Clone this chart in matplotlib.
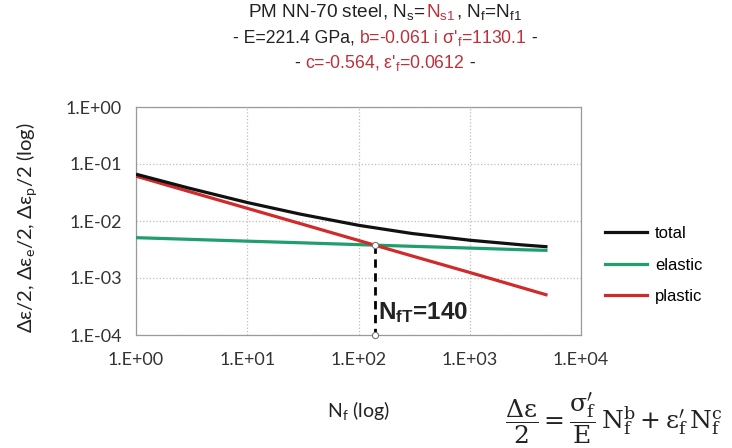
import matplotlib
matplotlib.use("Agg")
import matplotlib.pyplot as plt
from matplotlib.offsetbox import TextArea, HPacker, VPacker, AnnotationBbox
from matplotlib.lines import Line2D

plt.rcParams['mathtext.fontset'] = 'custom'
plt.rcParams['mathtext.rm'] = 'Liberation Sans'
plt.rcParams['mathtext.it'] = 'Liberation Sans:italic'
plt.rcParams['mathtext.bf'] = 'Liberation Sans:bold'

# ---- data ----
cycles = [1, 3, 10, 30, 100, 300, 1000, 3000, 5000]
total = [0.0663, 0.0377, 0.0211, 0.0132, 0.00841, 0.00605, 0.0046, 0.0038, 0.00353]
elastic = [0.0051, 0.00477, 0.00443, 0.00415, 0.00385, 0.0036, 0.00335, 0.00313, 0.00305]
plastic = [0.0612, 0.0329, 0.0167, 0.0090, 0.00456, 0.00245, 0.00125, 0.000669, 0.00050]
series_names = ['total', 'elastic', 'plastic']
transition_N = 140
transition_eps = 0.0038
xtick_vals = [1, 10, 100, 1000, 10000]
xtick_labels = ['1.E+00', '1.E+01', '1.E+02', '1.E+03', '1.E+04']
ytick_vals = [1e-4, 1e-3, 1e-2, 1e-1, 1]
ytick_labels = ['1.E-04', '1.E-03', '1.E-02', '1.E-01', '1.E+00']

C_TOTAL = '#111111'
C_ELASTIC = '#1f9e6e'
C_PLASTIC = '#d12a2a'
RED = '#c0303a'

W, H = 732, 448
fig = plt.figure(figsize=(W / 100, H / 100), dpi=100)
ax = fig.add_axes([136 / W, 1 - 335 / H, (581 - 136) / W, (335 - 107) / H])

ax.plot(cycles, elastic, color=C_ELASTIC, lw=2.3, solid_capstyle='butt', zorder=3)
ax.plot(cycles, plastic, color=C_PLASTIC, lw=2.3, solid_capstyle='butt', zorder=4)
ax.plot(cycles, total, color=C_TOTAL, lw=2.3, solid_capstyle='butt', zorder=5)

ax.plot([transition_N, transition_N], [transition_eps, 1e-4], color='black',
        lw=2.0, ls=(0, (3, 2)), zorder=6)
ax.plot([transition_N, transition_N], [transition_eps, 1e-4], ls='none', marker='o',
        ms=4.5, mfc='white', mec='#777777', mew=0.8, zorder=7, clip_on=False)
ax.text(150, 2.5e-4, r'N$_\mathbf{fT}$=140', fontsize=17.5, fontweight='bold',
        family='Liberation Sans', ha='left', va='center', color='#222222', zorder=8)

ax.set_xscale('log')
ax.set_yscale('log')
ax.set_xlim(1, 10000)
ax.set_ylim(1e-4, 1)
ax.set_xticks(xtick_vals)
ax.set_xticklabels(xtick_labels)
ax.set_yticks(ytick_vals)
ax.set_yticklabels(ytick_labels)
ax.minorticks_off()
ax.tick_params(length=0, labelsize=13, colors='#333333')
ax.tick_params(axis='x', pad=12)
ax.tick_params(axis='y', pad=10)
for lab in ax.get_xticklabels() + ax.get_yticklabels():
    lab.set_family('Lato')
ax.grid(True, color='#bdbdbd', ls=':', lw=0.9)
for s in ax.spines.values():
    s.set_color('#9a9a9a')
    s.set_linewidth(0.9)

# legend
handles = [Line2D([], [], color=c, lw=2.3) for c in (C_TOTAL, C_ELASTIC, C_PLASTIC)]
fig.legend(handles, series_names, loc='upper left', bbox_to_anchor=(590 / W, 1 - 211 / H),
           frameon=False, handlelength=2.5, handletextpad=0.5,
           labelspacing=1.0, prop={'family': 'Liberation Sans', 'size': 12})

# axis labels
fig.text(27 / W, 1 - 228 / H, r'Δε/2, Δε$_\mathregular{e}$/2, Δε$_\mathregular{p}$/2 (log)',
         rotation=90, ha='center', va='center', fontsize=14.5, family='Lato', color='#222222')
fig.text(358 / W, 1 - 410 / H, r'N$_\mathregular{f}$ (log)', ha='center', va='center',
         fontsize=14, family='Lato', color='#222222')

# equation
fig.text(505 / W, 1 - 418 / H,
         r"$\dfrac{\Delta\mathrm{\varepsilon}}{2}=\dfrac{\mathrm{\sigma}_\mathrm{f}^{\prime}}{\mathrm{E}}\,"
         r"\mathrm{N}_\mathrm{f}^\mathrm{b}+\mathrm{\varepsilon}_\mathrm{f}^{\prime}\,\mathrm{N}_\mathrm{f}^\mathrm{c}$",
         ha='left', va='center', fontsize=18, math_fontfamily='dejavuserif', color='#222222')

# title with mixed colours
tp = dict(family='Liberation Sans', fontsize=13.7)
def ta(s, c='#222222', size=None):
    d = dict(tp)
    d['color'] = c
    if size:
        d['fontsize'] = size
    return TextArea(s, textprops=d)

line1 = HPacker(children=[ta('PM NN-70 steel, N$_\\mathregular{s}$='),
                          ta('N$_\\mathregular{s1}$', RED),
                          ta(', N$_\\mathregular{f}$=N$_\\mathregular{f1}$')],
                align='baseline', pad=0, sep=0)
line2 = HPacker(children=[ta('- E=221.4 GPa, ', size=12.7),
                          ta("b=-0.061 i σ'$_\\mathregular{f}$=1130.1", RED, 12.7),
                          ta(' -', size=12.7)],
                align='baseline', pad=0, sep=0)
line3 = HPacker(children=[ta('- ', size=12.7),
                          ta("c=-0.564, ε'$_\\mathregular{f}$=0.0612", RED, 12.7),
                          ta(' -', size=12.7)],
                align='baseline', pad=0, sep=0)
title = VPacker(children=[line1, line2, line3], align='center', pad=0, sep=4)
ab = AnnotationBbox(title, (385 / W, 1 - 2 / H), xycoords='figure fraction',
                    box_alignment=(0.5, 1), frameon=False, pad=0)
fig.add_artist(ab)

fig.savefig('out.png', dpi=100)
